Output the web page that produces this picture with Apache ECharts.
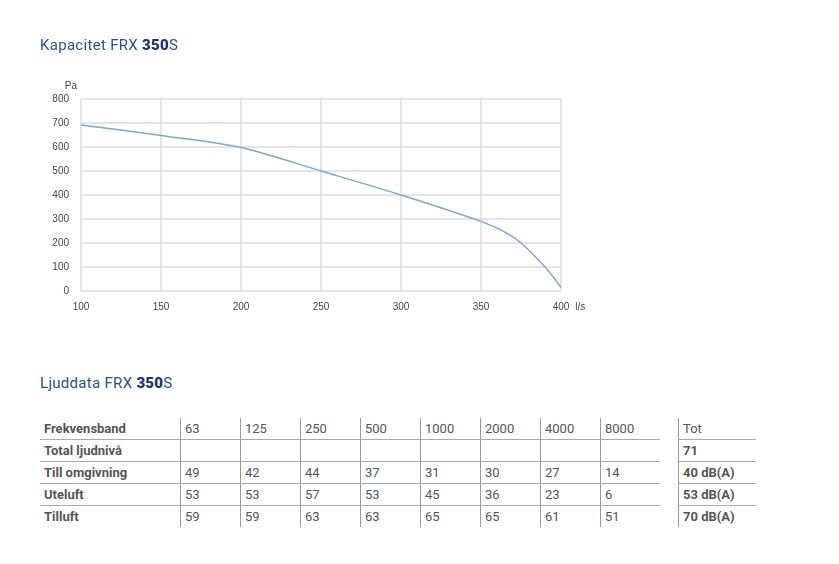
<!DOCTYPE html>
<html>
<head>
<meta charset="utf-8">
<script src="https://cdn.jsdelivr.net/npm/echarts@6/dist/echarts.min.js"></script>
<style>
body{margin:0;background:#fff;font-family:Roboto,"DejaVu Sans",sans-serif;}
#wrap{position:relative;width:839px;height:564px;}
#main{position:absolute;left:0;top:0;width:839px;height:340px;}
.title{position:absolute;left:40px;font-size:15px;color:#2f4f8f;letter-spacing:0.3px;}
.title b{color:#1d3470;font-weight:900;}
table{position:absolute;border-collapse:collapse;font-size:13px;color:#555;}
td{height:21px;padding:0 0 0 4px;line-height:21px;}
td.lab{font-weight:bold;width:136px;color:#555;}
td.v{width:55px;border-left:1px solid #999;}
tr.b td{border-bottom:1px solid #aaa;}
td.t{width:73px;border-left:1px solid #999;font-weight:bold;}
</style>
</head>
<body>
<div id="wrap">
<div id="main"></div>
<div class="title" style="top:36px">Kapacitet FRX <b>350</b>S</div>
<div class="title" style="top:374px">Ljuddata FRX <b>350</b>S</div>
<table id="tbl" style="left:40px;top:418px"></table>
<table id="tot" style="left:678px;top:418px"></table>
</div>
<script>
// kapacitetskurva
var flow = [100, 150, 200, 250, 300, 350, 365, 375, 390, 400];
var pressure = [692, 648, 598, 500, 400, 290, 245, 200, 100, 15];

// ljuddata
var bands = ['63', '125', '250', '500', '1000', '2000', '4000', '8000'];
var rowNames = ['Total ljudnivå', 'Till omgivning', 'Uteluft', 'Tilluft'];
var rowValues = [
    ['', '', '', '', '', '', '', ''],
    [49, 42, 44, 37, 31, 30, 27, 14],
    [53, 53, 57, 53, 45, 36, 23, 6],
    [59, 59, 63, 63, 65, 65, 61, 51]
];
var totals = ['71', '40 dB(A)', '53 dB(A)', '70 dB(A)'];

var myChart = echarts.init(document.getElementById('main'));
var option = {
    animation: false,
    grid: {left: 81, top: 99, width: 480, height: 192},
    xAxis: {
        type: 'value', min: 100, max: 400, interval: 50,
        name: 'l/s', nameGap: 8,
        nameTextStyle: {color: '#444', fontSize: 10, verticalAlign: 'top', padding: [11, 0, 0, 0]},
        axisLine: {show: false}, axisTick: {show: false},
        axisLabel: {color: '#444', fontSize: 10, margin: 11},
        splitLine: {lineStyle: {color: '#ddd', width: 1.5}}
    },
    yAxis: {
        type: 'value', min: 0, max: 800, interval: 100,
        name: 'Pa', nameGap: 8,
        nameTextStyle: {color: '#444', fontSize: 10, align: 'right', padding: [0, 4, 0, 0]},
        axisLine: {show: false}, axisTick: {show: false},
        axisLabel: {color: '#444', fontSize: 10, margin: 12},
        splitLine: {lineStyle: {color: '#ddd', width: 1.5}}
    },
    series: [{
        type: 'line', smooth: 0.3, symbol: 'none',
        data: flow.map(function (f, i) { return [f, pressure[i]]; }),
        lineStyle: {color: '#7fa6d0', width: 1.5}
    }]
};
myChart.setOption(option);

// tabell
var html = '<tr class="b"><td class="lab">Frekvensband</td>' +
    bands.map(function (b) { return '<td class="v">' + b + '</td>'; }).join('') + '</tr>';
rowNames.forEach(function (n, i) {
    html += '<tr' + (i < rowNames.length - 1 ? ' class="b"' : '') + '><td class="lab">' + n + '</td>' +
        rowValues[i].map(function (v) { return '<td class="v">' + v + '</td>'; }).join('') + '</tr>';
});
document.getElementById('tbl').innerHTML = html;
var th = '<tr class="b"><td class="t" style="font-weight:normal">Tot</td></tr>';
totals.forEach(function (t, i) {
    th += '<tr' + (i < totals.length - 1 ? ' class="b"' : '') + '><td class="t">' + t + '</td></tr>';
});
document.getElementById('tot').innerHTML = th;
</script>
</body>
</html>
